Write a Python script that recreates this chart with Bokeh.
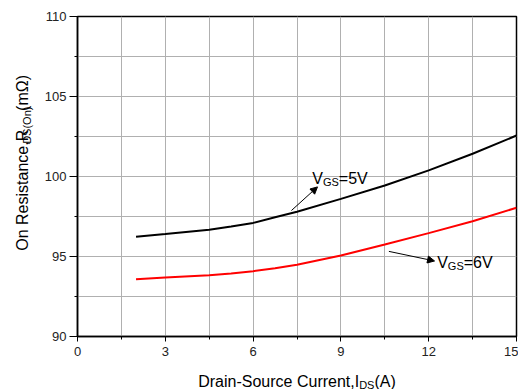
import math
from bokeh.plotting import figure
from bokeh.layouts import column, row
from bokeh.models import Range1d, FixedTicker, Label, Arrow, NormalHead
from bokeh.core.properties import value
from bokeh.embed import file_html
from bokeh.resources import INLINE

# ---- data ----
current_a = [2, 3, 4.5, 5.25, 6, 6.75, 7.5, 9, 10.5, 12, 13.5, 15]
rds_vgs5 = [96.23, 96.4, 96.67, 96.88, 97.1, 97.45, 97.8, 98.6, 99.44, 100.38, 101.42, 102.56]
rds_vgs6 = [93.58, 93.69, 93.83, 93.94, 94.08, 94.27, 94.48, 95.06, 95.75, 96.46, 97.2, 98.05]
x_ticks = [0, 3, 6, 9, 12, 15]
x_minor = [1.5, 4.5, 7.5, 10.5, 13.5]
y_ticks = [90, 95, 100, 105, 110]
y_minor = [92.5, 97.5, 102.5, 107.5]
x_title = [("Drain-Source Current,I", False), ("DS", True), ("(A)", False)]
y_title = [("On Resistance,R", False), ("DS(On)", True), ("(mΩ)", False)]
ann_5v = [("V", False), ("GS", True), ("=5V", False)]
ann_6v = [("V", False), ("GS", True), ("=6V", False)]

FONT = "Liberation Sans"
TOTAL_W, TOTAL_H = 518, 389
LW = 36            # left strip (y title)
XH = 27            # bottom strip (x title)
PW, PH = TOTAL_W - LW, TOTAL_H - XH
BL, BR, BT, BB = 41, 2, 16, 26
FW, FH = PW - BL - BR, PH - BT - BB

MAIN, SUB, SHIFT = 16, 11, 3

# Arial / Liberation Sans advance widths (per 1000 em)
AW = {' ': 278, '(': 333, ')': 333, ',': 278, '-': 333, '=': 584,
      'A': 667, 'C': 722, 'D': 722, 'G': 778, 'I': 278, 'O': 778, 'R': 722,
      'S': 667, 'V': 667, 'a': 556, 'c': 500, 'e': 556, 'i': 222, 'm': 833,
      'n': 556, 'o': 556, 'r': 333, 's': 500, 't': 278, 'u': 556, 'Ω': 768}


def tw(s, size):
    return sum(AW.get(c, 556) for c in s) * size / 1000.0


# ---------------- main plot ----------------
p = figure(width=PW, height=PH, output_backend="svg", toolbar_location=None,
           x_range=Range1d(0, 15), y_range=Range1d(90, 110),
           min_border_left=BL, min_border_right=BR, min_border_top=BT,
           min_border_bottom=BB)
p.background_fill_color = "white"
p.border_fill_color = "white"
p.outline_line_color = "black"
p.outline_line_width = 1.5

p.xaxis.ticker = FixedTicker(ticks=x_ticks, minor_ticks=x_minor)
p.yaxis.ticker = FixedTicker(ticks=y_ticks, minor_ticks=y_minor)
p.xaxis.major_label_overrides = {t: str(t) for t in x_ticks}
p.yaxis.major_label_overrides = {t: str(t) for t in y_ticks}

for ax in (p.xaxis[0], p.yaxis[0]):
    ax.axis_line_color = "black"
    ax.axis_line_width = 1.5
    ax.major_tick_line_color = "black"
    ax.minor_tick_line_color = "black"
    ax.major_tick_in = 0
    ax.minor_tick_in = 0
    ax.minor_tick_out = 3
    ax.major_label_text_font = FONT
    ax.major_label_text_font_size = "13px"
    ax.major_label_text_color = "#222222"
p.xaxis.major_tick_out = 5
p.xaxis.major_label_standoff = 5
p.yaxis.major_tick_out = 8
p.yaxis.major_label_standoff = 3

for g in (p.xgrid[0], p.ygrid[0]):
    g.grid_line_color = "#b0b0b0"
    g.grid_line_width = 1
    g.minor_grid_line_color = "#b0b0b0"
    g.minor_grid_line_width = 1

p.line(current_a, rds_vgs5, line_color="black", line_width=2)
p.line(current_a, rds_vgs6, line_color="#ff0000", line_width=2)


def add_ann(x, y, parts):
    off = 0.0
    for txt, is_sub in parts:
        size = SUB if is_sub else MAIN
        p.add_layout(Label(x=x, y=y, text=txt, text_font=FONT,
                           text_font_size=f"{size}px", text_color="black",
                           text_align="left", text_baseline="alphabetic",
                           x_offset=off, y_offset=(-SHIFT if is_sub else 0)))
        off += tw(txt, size)


add_ann(8.02, 99.85, ann_5v)
add_ann(12.29, 94.62, ann_6v)

p.add_layout(Arrow(end=NormalHead(size=7, fill_color="black", line_color="black", line_width=1),
                   x_start=7.31, y_start=97.875, x_end=8.2, y_end=99.35,
                   line_color="black", line_width=1))
p.add_layout(Arrow(end=NormalHead(size=7, fill_color="black", line_color="black", line_width=1),
                   x_start=10.64, y_start=95.32, x_end=12.2, y_end=94.72,
                   line_color="black", line_width=1))


# ---------------- title strips (pixel-unit ranges) ----------------
def strip(w, h):
    f = figure(width=w, height=h, output_backend="svg", toolbar_location=None,
               x_range=Range1d(0, w), y_range=Range1d(0, h),
               x_axis_location=None, y_axis_location=None,
               min_border=0)
    f.grid.visible = False
    f.outline_line_color = None
    f.background_fill_color = "white"
    f.border_fill_color = "white"
    return f


def draw_parts(f, x0, y0, parts, vertical=False, shift=SHIFT):
    xs, ys, ts, sizes = [], [], [], []
    off = 0.0
    for txt, is_sub in parts:
        size = SUB if is_sub else MAIN
        if vertical:
            xs.append(x0 + (shift if is_sub else 0))
            ys.append(y0 + off)
        else:
            xs.append(x0 + off)
            ys.append(y0 - (shift if is_sub else 0))
        ts.append(txt)
        sizes.append(f"{size}px")
        off += tw(txt, size)
    f.text(x=xs, y=ys, text=ts, text_font=value(FONT), text_font_size=sizes,
           text_color="black", text_align="left", text_baseline="alphabetic",
           angle=(math.pi / 2 if vertical else 0))


# y title strip: baseline ~22 px from the page's left edge, starts 71 px above frame bottom
ys = strip(LW, PH)
draw_parts(ys, 22, BB + 71, y_title, vertical=True, shift=4)

# x title strip: centred under the frame
xs_ = strip(TOTAL_W, XH)
xw = sum(tw(t, SUB if s else MAIN) for t, s in x_title)
draw_parts(xs_, LW + BL + FW / 2 - xw / 2, 8, x_title)

layout = column(row(ys, p, spacing=0), xs_, spacing=0)
open("out.html", "w").write(file_html(layout, INLINE))
